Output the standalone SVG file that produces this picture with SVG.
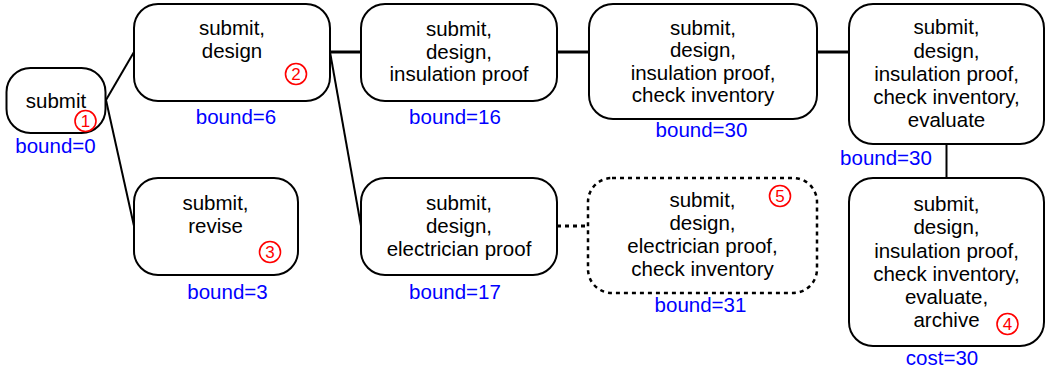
<svg xmlns="http://www.w3.org/2000/svg" width="1050" height="374" viewBox="0 0 1050 374">
  <style>
    .node { fill: #ffffff; stroke: #000000; stroke-width: 2; }
    .dashed { stroke-dasharray: 4 4; stroke-width: 2.5; }
    .t { font-family: "Liberation Sans", Arial, sans-serif; font-size: 20.5px; fill: #000000; text-anchor: middle; }
    .lbl { font-family: "Liberation Sans", Arial, sans-serif; font-size: 20.5px; fill: #0000ff; text-anchor: middle; }
    .num { fill: none; stroke: #ff0000; stroke-width: 1.6; }
    .numt { font-family: "Liberation Sans", Arial, sans-serif; font-size: 17px; fill: #ff0000; text-anchor: middle; }
    .edge { stroke: #000000; stroke-width: 2; fill: none; }
    .edge-h { stroke: #000000; stroke-width: 3; fill: none; }
    .edge-d { stroke: #000000; stroke-width: 3; fill: none; stroke-dasharray: 4 4; }
  </style>

  <g id="connectors">
    <line class="edge" x1="106" y1="100" x2="134" y2="52"/>
    <line class="edge" x1="106" y1="100" x2="134" y2="226"/>
    <line class="edge-h" x1="330" y1="52" x2="361" y2="52"/>
    <line class="edge" x1="330" y1="52" x2="361" y2="226"/>
    <line class="edge-h" x1="557" y1="52" x2="589" y2="52"/>
    <line class="edge-h" x1="817" y1="52" x2="849" y2="52"/>
    <line class="edge" x1="946.5" y1="144" x2="946.5" y2="178"/>
    <line class="edge-d" x1="557" y1="226" x2="588" y2="226"/>
  </g>

  <g id="n1">
    <rect class="node" x="6.5" y="68" width="99" height="65" rx="24"/>
    <text class="t" x="56" y="108">submit</text>
    <circle class="num" cx="85.5" cy="121" r="10.5"/>
    <text class="numt" x="85.5" y="127">1</text>
    <text class="lbl" x="55.5" y="153">bound=0</text>
  </g>

  <g id="n2">
    <rect class="node" x="134" y="4" width="196" height="97" rx="24"/>
    <text class="t" x="232" y="35">submit,</text>
    <text class="t" x="232" y="58">design</text>
    <circle class="num" cx="296" cy="74" r="10.5"/>
    <text class="numt" x="296" y="80">2</text>
    <text class="lbl" x="236" y="124">bound=6</text>
  </g>

  <g id="n3">
    <rect class="node" x="134" y="178" width="164" height="97" rx="24"/>
    <text class="t" x="215.5" y="210">submit,</text>
    <text class="t" x="215.5" y="233">revise</text>
    <circle class="num" cx="270" cy="252" r="10.5"/>
    <text class="numt" x="270" y="258">3</text>
    <text class="lbl" x="227.5" y="299">bound=3</text>
  </g>

  <g id="n4">
    <rect class="node" x="361" y="4" width="196" height="97" rx="24"/>
    <text class="t" x="459" y="36">submit,</text>
    <text class="t" x="459" y="58.5">design,</text>
    <text class="t" x="459" y="81">insulation proof</text>
    <text class="lbl" x="455" y="124">bound=16</text>
  </g>

  <g id="n5">
    <rect class="node" x="361" y="178" width="196" height="97" rx="24"/>
    <text class="t" x="459" y="210">submit,</text>
    <text class="t" x="459" y="233">design,</text>
    <text class="t" x="459" y="256">electrician proof</text>
    <text class="lbl" x="455" y="299">bound=17</text>
  </g>

  <g id="n6">
    <rect class="node" x="589" y="4" width="228" height="115" rx="24"/>
    <text class="t" x="703" y="34.5">submit,</text>
    <text class="t" x="703" y="57">design,</text>
    <text class="t" x="703" y="79.5">insulation proof,</text>
    <text class="t" x="703" y="102">check inventory</text>
    <text class="lbl" x="701.5" y="137">bound=30</text>
  </g>

  <g id="n7">
    <rect class="node dashed" x="588" y="178" width="229" height="115" rx="24"/>
    <text class="t" x="702.5" y="207">submit,</text>
    <text class="t" x="702.5" y="230">design,</text>
    <text class="t" x="702.5" y="253">electrician proof,</text>
    <text class="t" x="702.5" y="276">check inventory</text>
    <circle class="num" cx="780" cy="196" r="10.5"/>
    <text class="numt" x="780" y="202">5</text>
    <text class="lbl" x="700.5" y="312">bound=31</text>
  </g>

  <g id="n8">
    <rect class="node" x="849" y="4" width="195" height="140" rx="24"/>
    <text class="t" x="946.5" y="34.3">submit,</text>
    <text class="t" x="946.5" y="57.5">design,</text>
    <text class="t" x="946.5" y="80.7">insulation proof,</text>
    <text class="t" x="946.5" y="104">check inventory,</text>
    <text class="t" x="946.5" y="127.3">evaluate</text>
    <text class="lbl" x="886" y="165">bound=30</text>
  </g>

  <g id="n9">
    <rect class="node" x="849" y="178" width="195" height="168" rx="24"/>
    <text class="t" x="946.5" y="211">submit,</text>
    <text class="t" x="946.5" y="234">design,</text>
    <text class="t" x="946.5" y="257.5">insulation proof,</text>
    <text class="t" x="946.5" y="280.7">check inventory,</text>
    <text class="t" x="946.5" y="304">evaluate,</text>
    <text class="t" x="946.5" y="327.3">archive</text>
    <circle class="num" cx="1007.5" cy="324" r="10.5"/>
    <text class="numt" x="1007.5" y="330">4</text>
    <text class="lbl" x="942" y="365">cost=30</text>
  </g>
</svg>
